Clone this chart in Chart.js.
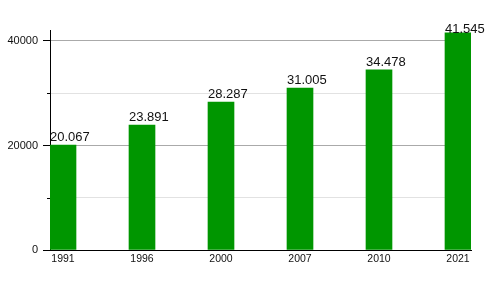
<!DOCTYPE html>
<html lang="de">
<head>
    <meta charset="UTF-8">
    <title>Einwohner</title>
    <script src="https://cdn.jsdelivr.net/npm/chart.js@4.4.0/dist/chart.umd.min.js"></script>
    <style>
        html, body { margin: 0; padding: 0; background: #fff; }
        #wrap { width: 500px; height: 300px; }
    </style>
</head>
<body>
    <div id="wrap"><canvas id="chart"></canvas></div>

    <script>
        // data
        const years = ['1991', '1996', '2000', '2007', '2010', '2021'];
        const values = [20067, 23891, 28287, 31005, 34478, 41545];
        const barColor = '#009600';

        // value labels above the bars, left aligned to bar edge
        const valueLabels = {
            id: 'valueLabels',
            afterDatasetsDraw(chart) {
                const ctx = chart.ctx;
                ctx.save();
                ctx.font = '13px "Liberation Sans", Arial, sans-serif';
                ctx.fillStyle = '#111';
                ctx.textAlign = 'left';
                ctx.textBaseline = 'alphabetic';
                chart.getDatasetMeta(0).data.forEach((bar, i) => {
                    const txt = values[i].toLocaleString('de-DE');
                    // keep the label from running above the plot top
                    const y = Math.max(bar.y - 4, chart.chartArea.top + 3);
                    ctx.fillText(txt, bar.x - bar.width / 2, y);
                });
                ctx.restore();
            }
        };

        // short minor tick marks on the y axis
        const minorTicks = {
            id: 'minorTicks',
            afterDraw(chart) {
                const y = chart.scales.y;
                const ctx = chart.ctx;
                ctx.save();
                ctx.strokeStyle = '#000';
                ctx.lineWidth = 1;
                [10000, 30000].forEach(v => {
                    const py = Math.round(y.getPixelForValue(v)) + 0.5;
                    ctx.beginPath();
                    ctx.moveTo(y.right - 3, py);
                    ctx.lineTo(y.right, py);
                    ctx.stroke();
                });
                ctx.restore();
            }
        };

        new Chart(document.getElementById('chart'), {
            type: 'bar',
            data: {
                datasets: [{
                    data: values.map((v, i) => ({ x: i, y: v })),
                    backgroundColor: barColor,
                    barThickness: 26
                }]
            },
            options: {
                responsive: true,
                maintainAspectRatio: false,
                animation: false,
                layout: { padding: { top: 30, right: 29 } },
                plugins: { legend: { display: false }, tooltip: { enabled: false } },
                scales: {
                    x: {
                        type: 'linear',
                        offset: false,
                        min: -0.1646,
                        max: 5.1646,
                        grid: { display: false },
                        border: { display: true, color: '#000', width: 1 },
                        afterBuildTicks: axis => { axis.ticks = years.map((y, i) => ({ value: i })); },
                        afterFit: axis => { axis.height = 50; },
                        ticks: {
                            autoSkip: false,
                            maxRotation: 0,
                            padding: -5,
                            color: '#111',
                            font: { family: '"Liberation Sans", Arial, sans-serif', size: 10.5 },
                            callback: v => years[v]
                        }
                    },
                    y: {
                        min: 0,
                        max: 42100,
                        afterFit: axis => { axis.width = 50; },
                        afterBuildTicks: axis => {
                            axis.ticks = [0, 10000, 20000, 30000, 40000].map(v => ({ value: v }));
                        },
                        border: { display: true, color: '#000', width: 1 },
                        grid: {
                            color: c => (c.tick.value % 20000 === 0 ? '#aaaaaa' : '#e2e2e2'),
                            tickColor: c => (c.tick.value % 20000 === 0 ? '#000' : 'rgba(0,0,0,0)'),
                            tickLength: 7
                        },
                        ticks: {
                            padding: 5,
                            color: '#111',
                            font: { family: '"Liberation Sans", Arial, sans-serif', size: 11 },
                            callback: v => (v % 20000 === 0 ? String(v) : '')
                        }
                    }
                }
            },
            plugins: [valueLabels, minorTicks]
        });
    </script>
</body>
</html>
